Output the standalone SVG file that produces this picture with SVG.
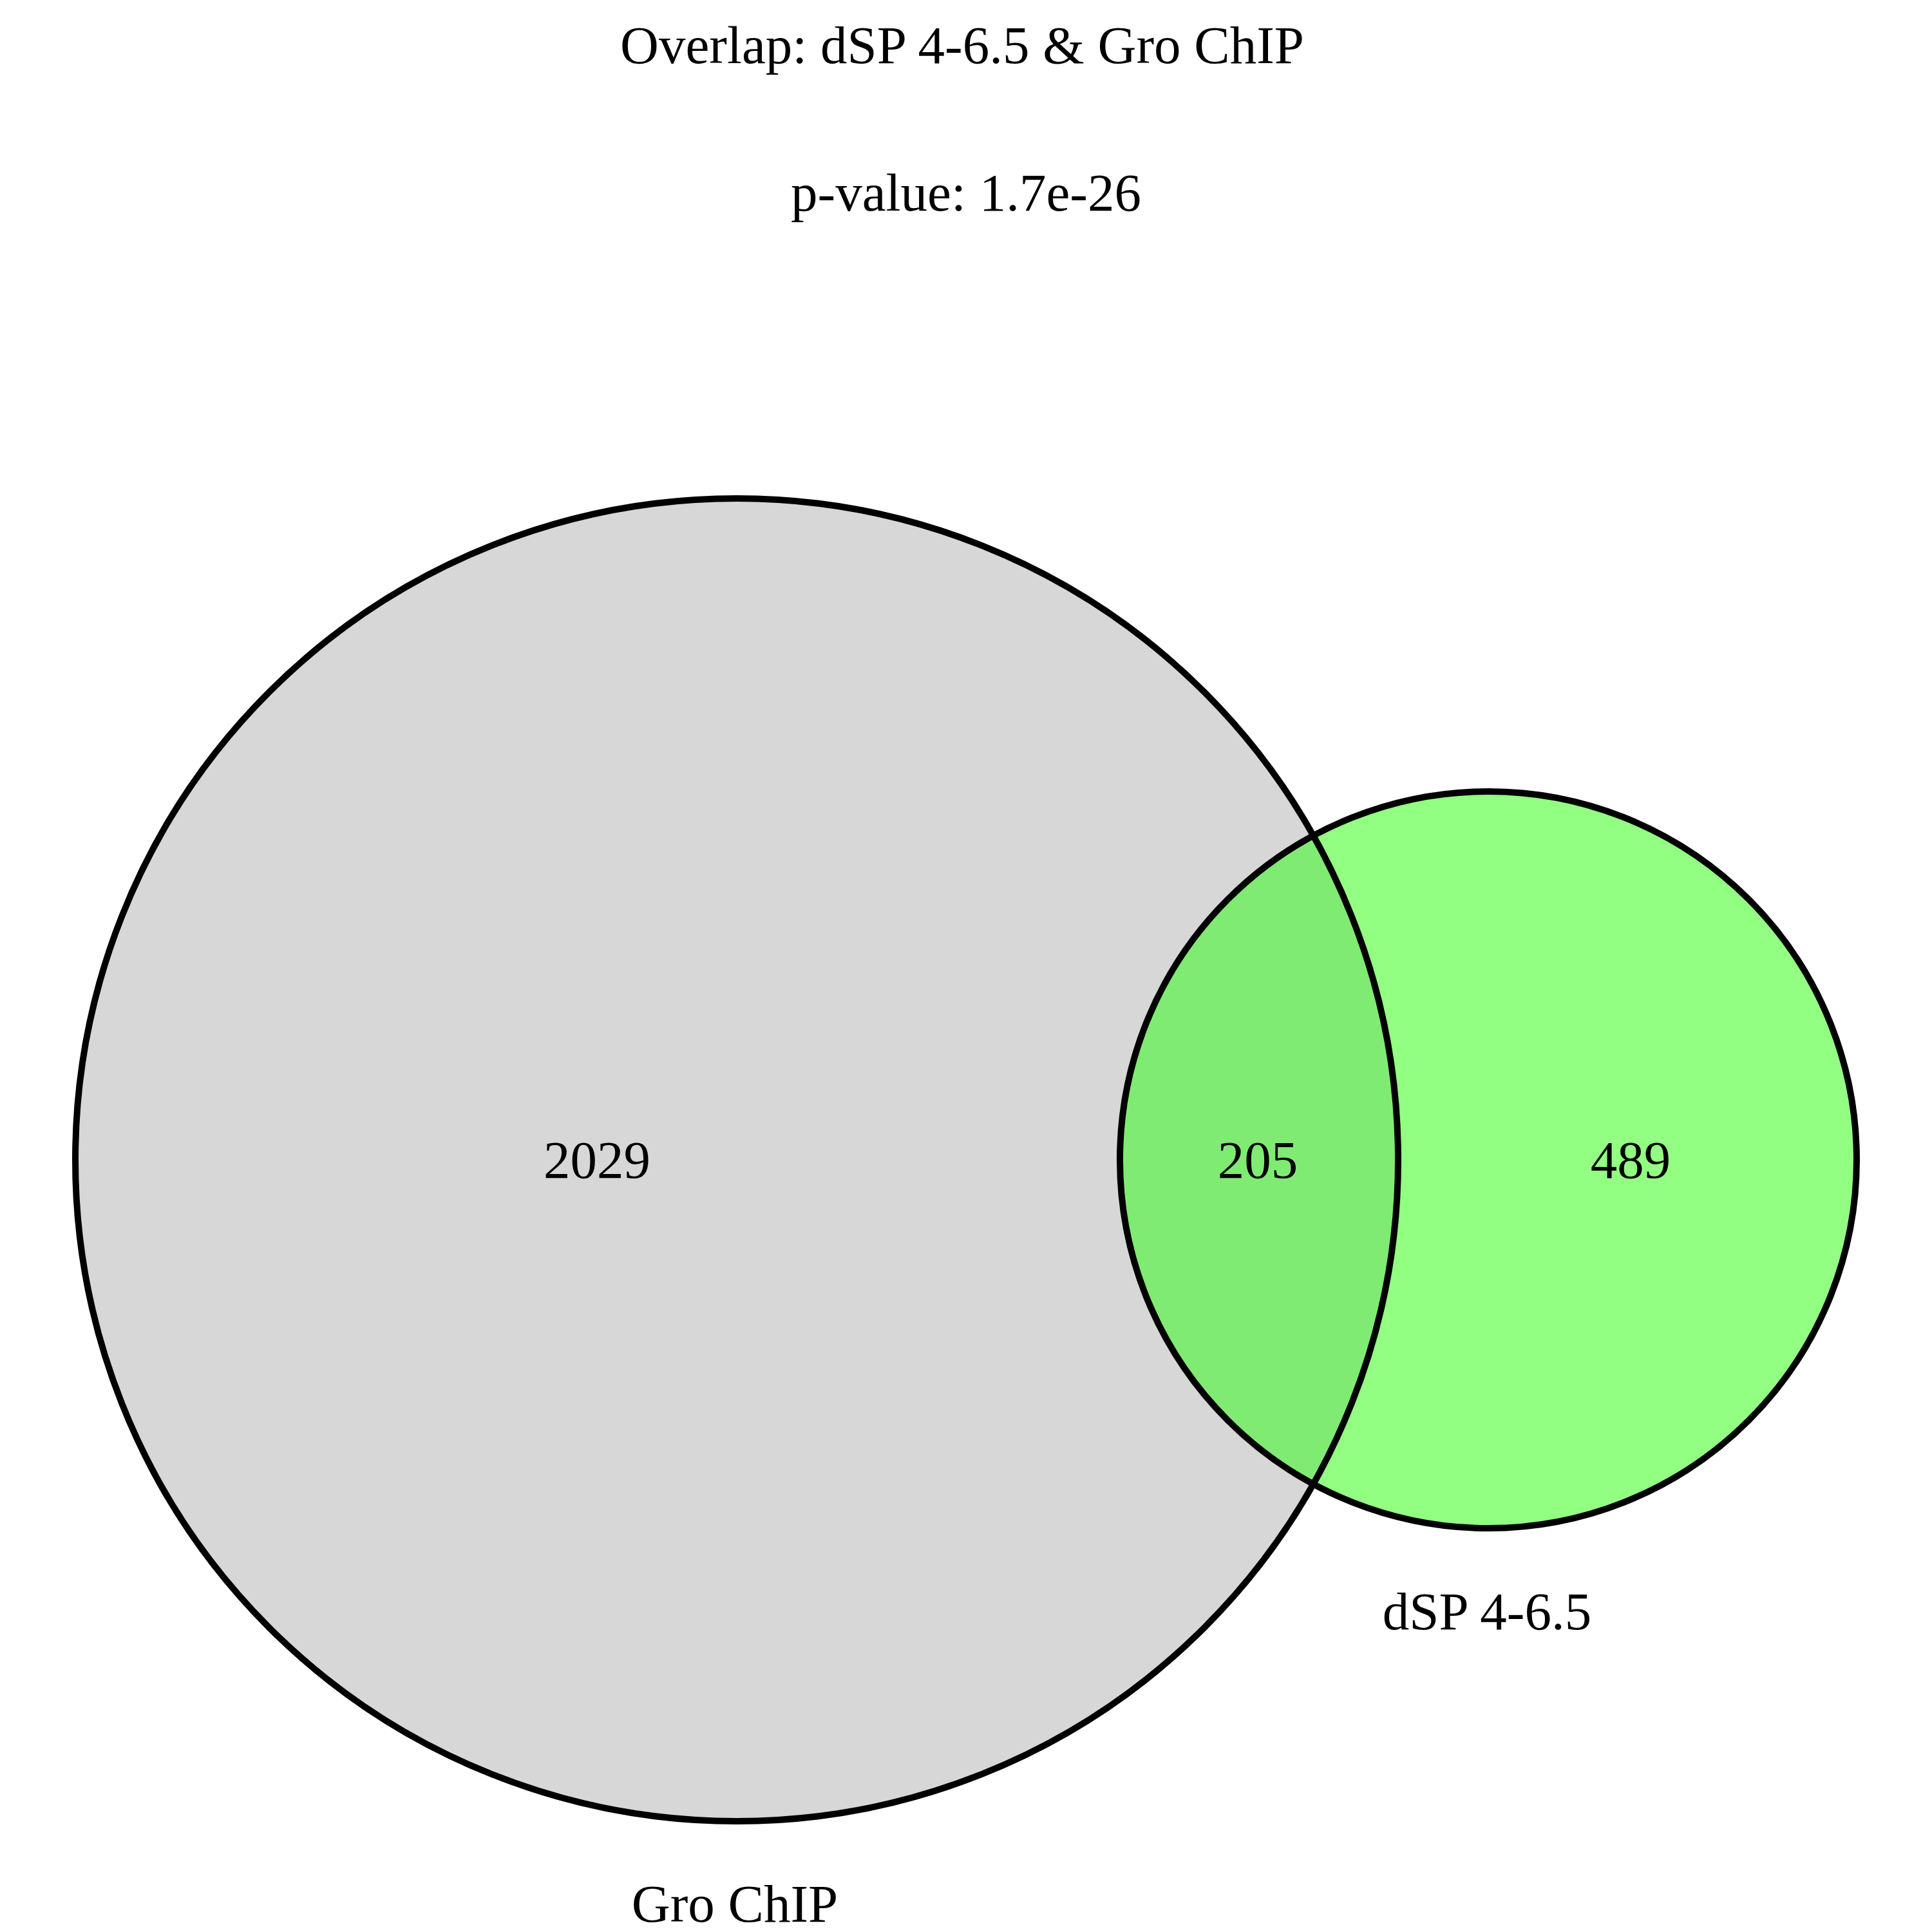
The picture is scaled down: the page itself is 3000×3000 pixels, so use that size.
<svg xmlns="http://www.w3.org/2000/svg" width="3000" height="3000" viewBox="0 0 3000 3000">
<style>
text{font-family:"Liberation Serif","Times New Roman",serif;font-size:83px;fill:#000;text-anchor:middle}
.outline{fill:none;stroke:#000;stroke-width:10}
</style>
<defs>
<clipPath id="clipBig"><circle cx="1144" cy="1801" r="1027"/></clipPath>
</defs>
<rect width="3000" height="3000" fill="#fff"/>
<g id="gro-chip">
<circle cx="1144" cy="1801" r="1027" fill="#d7d7d7"/>
</g>
<g id="dsp">
<circle cx="2311" cy="1801" r="572" fill="#93ff82"/>
</g>
<g id="overlap">
<circle cx="2311" cy="1801" r="572" fill="#80eb72" clip-path="url(#clipBig)"/>
</g>
<g id="outlines">
<circle class="outline" cx="1144" cy="1801" r="1027"/>
<circle class="outline" cx="2311" cy="1801" r="572"/>
</g>
<g id="labels">
<text x="1494" y="98">Overlap: dSP 4-6.5 &amp; Gro ChIP</text>
<text x="1500" y="327">p-value: 1.7e-26</text>
<text x="927" y="1829">2029</text>
<text x="1953" y="1829">205</text>
<text x="2532" y="1829">489</text>
<text x="2309" y="2530">dSP 4-6.5</text>
<text x="1141" y="2984">Gro ChIP</text>
</g>
</svg>
